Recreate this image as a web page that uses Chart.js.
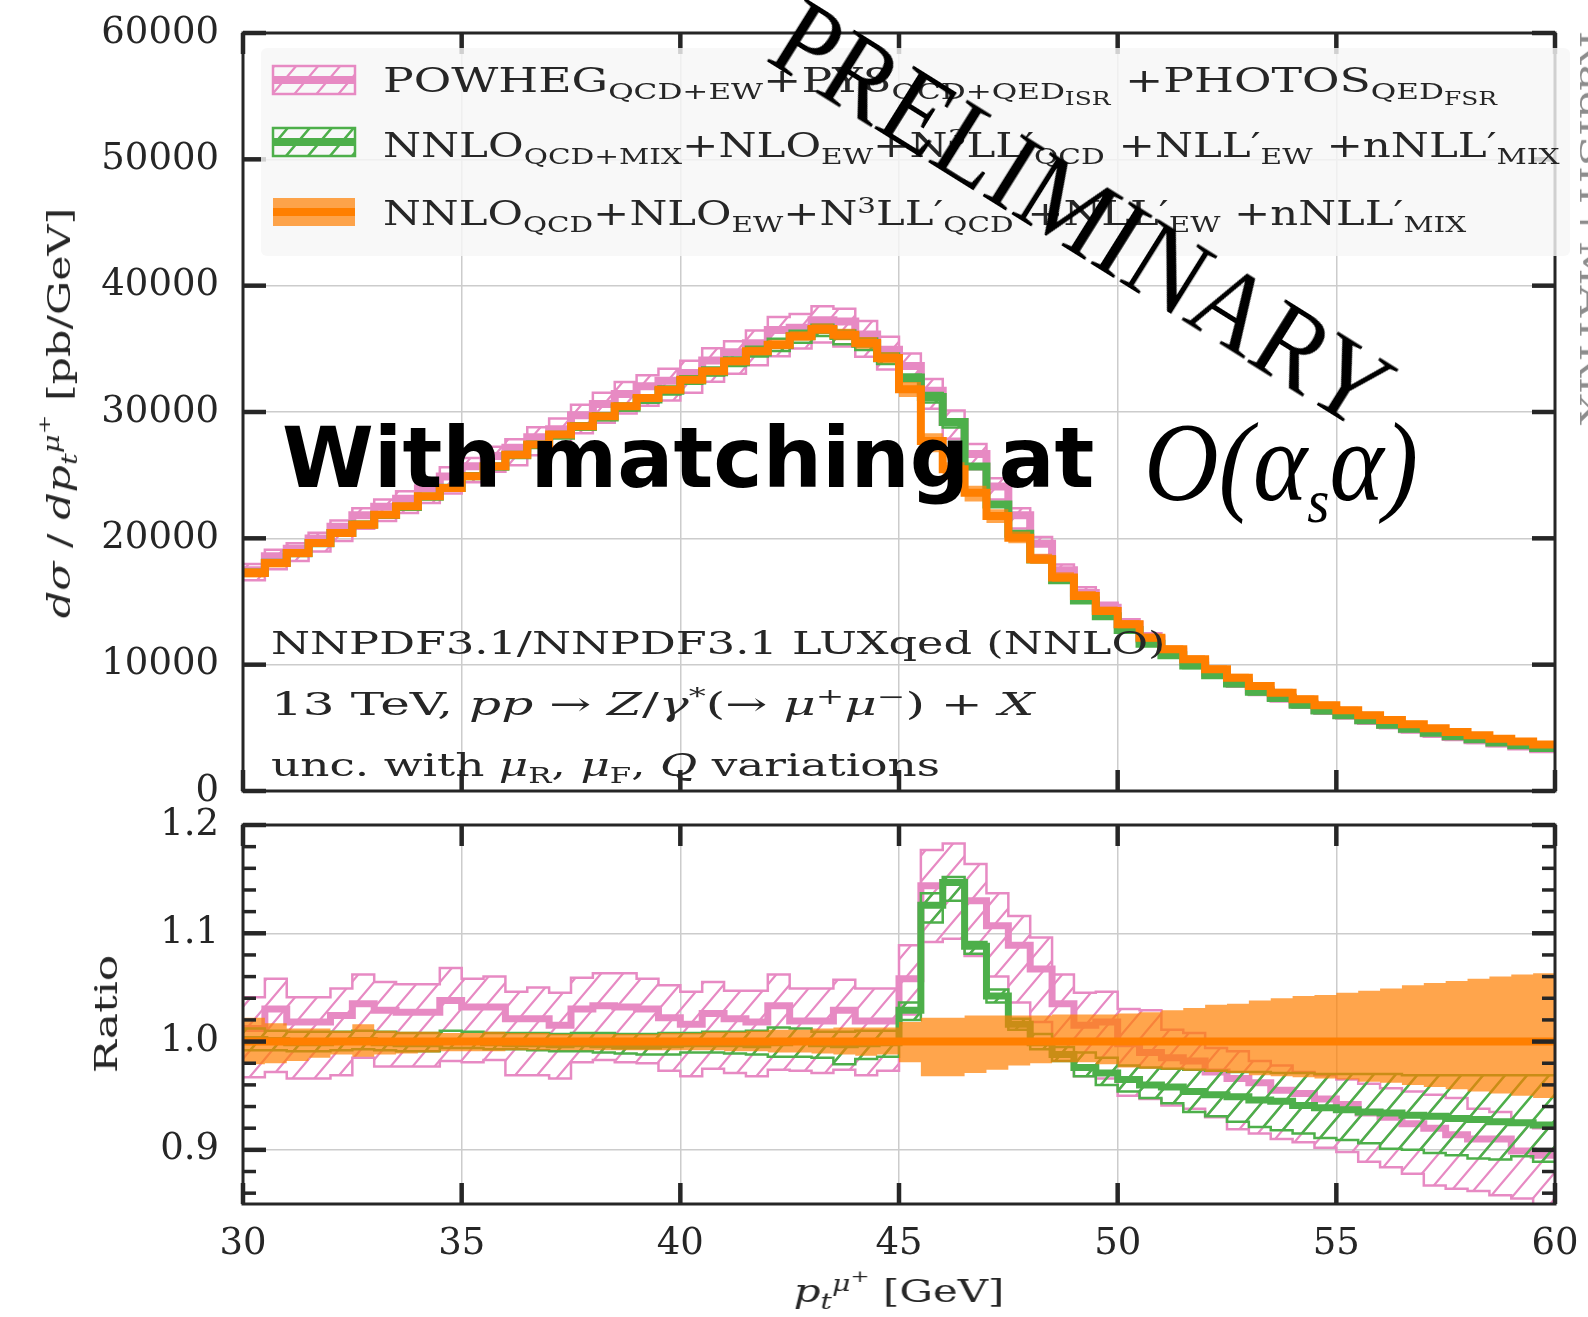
<!DOCTYPE html>
<html>
<head>
<meta charset="utf-8">
<title>pT(mu+) spectrum</title>
<script src="https://cdn.jsdelivr.net/npm/chart.js@4.4.1/dist/chart.umd.min.js"></script>
<style>
  body { margin: 0; background: #fff; }
  #page { position: relative; width: 1588px; height: 1317px; overflow: hidden; font-family: 'DejaVu Serif', serif; color: #262626; }
  canvas { position: absolute; left: 0; }
  .txt { position: absolute; white-space: nowrap; line-height: 1; transform-origin: 0 0; }
  sub, sup { font-size: 0.68em; line-height: 0; }
  sub { vertical-align: -0.32em; }
  sup { vertical-align: 0.5em; }
  sub sub, sup sup { font-size: 0.8em; }
  .leg { font-size: 34px; }
  .note { font-size: 32px; }
  .axt { font-size: 32px; }
</style>
</head>
<body>
<div id="page">
  <canvas id="mainChart" width="1588" height="830" style="top:0"></canvas>
  <canvas id="ratioChart" width="1588" height="517" style="top:800px"></canvas>

  <!-- legend -->
  <div class="txt leg" data-x="383" data-y="81" data-w="1114">POWHEG<sub>QCD+EW</sub>+PY8<sub>QCD+QED<sub>ISR</sub></sub> +PHOTOS<sub>QED<sub>FSR</sub></sub></div>
  <div class="txt leg" data-x="383" data-y="145" data-w="1177">NNLO<sub>QCD+MIX</sub>+NLO<sub>EW</sub>+N<sup>3</sup>LL′<sub>QCD</sub> +NLL′<sub>EW</sub> +nNLL′<sub>MIX</sub></div>
  <div class="txt leg" data-x="383" data-y="213" data-w="1083">NNLO<sub>QCD</sub>+NLO<sub>EW</sub>+N<sup>3</sup>LL′<sub>QCD</sub> +NLL′<sub>EW</sub> +nNLL′<sub>MIX</sub></div>

  <!-- setup notes -->
  <div class="txt note" data-x="271" data-y="643" data-w="894">NNPDF3.1/NNPDF3.1 LUXqed (NNLO)</div>
  <div class="txt note" data-x="271" data-y="704" data-w="764">13 TeV, <i>pp</i> → <i>Z</i>/<i>γ</i><sup>*</sup>(→ <i>μ</i><sup>+</sup><i>μ</i><sup>−</sup>) + <i>X</i></div>
  <div class="txt note" data-x="271" data-y="765" data-w="669">unc. with <i>μ</i><sub>R</sub>, <i>μ</i><sub>F</sub>, <i>Q</i> variations</div>

  <!-- axis titles -->
  <div class="txt axt" data-x="59" data-y="413" data-w="410" data-rot="-90"><i>dσ</i> / <i>dp</i><sub><i>t</i></sub><sup><i>μ</i><sup>+</sup></sup> [pb/GeV]</div>
  <div class="txt axt" data-x="106" data-y="1014" data-w="118" data-rot="-90">Ratio</div>
  <div class="txt axt" data-x="899" data-y="1291" data-w="211" data-rot="0.0001"><i>p</i><sub><i>t</i></sub><sup><i>μ</i><sup>+</sup></sup> [GeV]</div>

  <!-- overlays -->
  <div class="txt" style="font-family:'DejaVu Sans',sans-serif;font-weight:bold;font-size:84px;color:#000" data-x="282" data-y="458" data-w="812">With matching at</div>
  <div class="txt" style="font-family:'Liberation Serif',serif;font-style:italic;font-size:112px;color:#000" data-x="1144" data-y="462" data-w="274">O(α<sub style="font-size:0.55em;vertical-align:-0.35em">s</sub>α)</div>
  <div class="txt" style="font-family:'Liberation Serif',serif;font-size:112px;color:#000" data-x="1083" data-y="214" data-w="705" data-rot="32">PRELIMINARY</div>
  <div class="txt" style="font-size:30px;color:#8c8c8c" data-x="1590" data-y="228" data-w="395" data-rot="90">RadISH+MATRIX</div>
</div>

<script>
// bin edges of the pT histogram [GeV]
const binEdges = [30, 30.5, 31, 31.5, 32, 32.5, 33, 33.5, 34, 34.5, 35, 35.5, 36, 36.5, 37, 37.5, 38, 38.5, 39, 39.5,
  40, 40.5, 41, 41.5, 42, 42.5, 43, 43.5, 44, 44.5, 45, 45.5, 46, 46.5, 47, 47.5, 48, 48.5, 49, 49.5,
  50, 50.5, 51, 51.5, 52, 52.5, 53, 53.5, 54, 54.5, 55, 55.5, 56, 56.5, 57, 57.5, 58, 58.5, 59, 59.5, 60];

// NNLO_QCD+NLO_EW+N3LL' central prediction [pb/GeV] (reference of the ratio)
const nnloXsec = [17260, 18050, 18840, 19630, 20420, 21080, 21870, 22530, 23330, 23990,
  24910, 25700, 26620, 27420, 28210, 28870, 29660, 30450, 31110, 31770,
  32560, 33220, 34010, 34810, 35330, 35990, 36570, 36120, 35470, 34280,
  31800, 27700, 25460, 23600, 21770, 20050, 18340, 16890, 15440, 14250,
  13200, 12140, 11220, 10420, 9630, 8970, 8310, 7780, 7260, 6780,
  6390, 5990, 5620, 5280, 4960, 4670, 4410, 4140, 3910, 3690];
const nnloRatioHi = [1.022, 1.017, 1.012, 1.012, 1.010, 1.016, 1.010, 1.009, 1.009, 1.008,
  1.008, 1.009, 1.008, 1.008, 1.007, 1.007, 1.007, 1.007, 1.007, 1.008,
  1.008, 1.009, 1.009, 1.010, 1.011, 1.011, 1.012, 1.013, 1.013, 1.013,
  1.018, 1.022, 1.022, 1.024, 1.024, 1.024, 1.024, 1.025, 1.025, 1.025,
  1.026, 1.027, 1.029, 1.031, 1.034, 1.035, 1.038, 1.040, 1.042, 1.043,
  1.045, 1.047, 1.049, 1.052, 1.054, 1.056, 1.058, 1.060, 1.062, 1.063];
const nnloRatioLo = [0.979, 0.980, 0.982, 0.985, 0.988, 0.986, 0.988, 0.989, 0.990, 0.991,
  0.991, 0.991, 0.992, 0.992, 0.992, 0.992, 0.992, 0.992, 0.992, 0.992,
  0.992, 0.992, 0.991, 0.991, 0.990, 0.990, 0.989, 0.988, 0.987, 0.988,
  0.981, 0.968, 0.968, 0.971, 0.974, 0.978, 0.980, 0.981, 0.981, 0.979,
  0.976, 0.975, 0.974, 0.973, 0.972, 0.971, 0.969, 0.968, 0.967, 0.966,
  0.965, 0.963, 0.962, 0.960, 0.958, 0.956, 0.954, 0.952, 0.950, 0.948];

// POWHEG+PY8+PHOTOS, ratio to the reference
const powhegRatio = [1.012, 1.030, 1.018, 1.018, 1.024, 1.035, 1.029, 1.027, 1.027, 1.038,
  1.032, 1.032, 1.021, 1.021, 1.015, 1.030, 1.033, 1.032, 1.030, 1.022,
  1.016, 1.026, 1.021, 1.018, 1.033, 1.019, 1.019, 1.029, 1.019, 1.019,
  1.058, 1.144, 1.147, 1.130, 1.107, 1.089, 1.067, 1.035, 1.015, 1.018,
  0.998, 0.990, 0.985, 0.982, 0.972, 0.966, 0.962, 0.955, 0.952, 0.947,
  0.942, 0.934, 0.930, 0.924, 0.920, 0.914, 0.910, 0.910, 0.899, 0.895];
const powhegRatioHi = [1.041, 1.058, 1.041, 1.041, 1.049, 1.062, 1.055, 1.053, 1.053, 1.068,
  1.058, 1.060, 1.046, 1.050, 1.045, 1.059, 1.063, 1.063, 1.058, 1.052,
  1.046, 1.055, 1.047, 1.047, 1.062, 1.049, 1.049, 1.057, 1.049, 1.049,
  1.089, 1.177, 1.183, 1.164, 1.137, 1.116, 1.096, 1.062, 1.045, 1.046,
  1.030, 1.029, 1.011, 1.008, 0.994, 0.991, 0.982, 0.978, 0.972, 0.969,
  0.965, 0.961, 0.957, 0.954, 0.951, 0.948, 0.938, 0.935, 0.925, 0.920];
const powhegRatioLo = [0.967, 0.972, 0.966, 0.966, 0.969, 0.985, 0.977, 0.977, 0.977, 0.982,
  0.981, 0.983, 0.969, 0.969, 0.966, 0.981, 0.983, 0.981, 0.980, 0.973,
  0.968, 0.975, 0.971, 0.968, 0.974, 0.973, 0.971, 0.974, 0.969, 0.973,
  1.025, 1.092, 1.095, 1.079, 1.060, 1.036, 1.018, 0.987, 0.968, 0.966,
  0.950, 0.947, 0.941, 0.938, 0.930, 0.919, 0.915, 0.910, 0.907, 0.902,
  0.898, 0.889, 0.884, 0.878, 0.867, 0.864, 0.862, 0.858, 0.855, 0.845];

// NNLO_QCD+MIX ... +nNLL'_MIX, ratio to the reference
const mixRatio = [1.002, 1.001, 0.999, 0.999, 1.000, 1.001, 0.999, 0.998, 0.998, 1.000,
  1.000, 0.999, 0.998, 0.998, 0.997, 0.998, 0.997, 0.996, 0.996, 0.997,
  0.998, 0.998, 0.998, 0.997, 0.999, 1.000, 0.998, 0.997, 0.998, 0.999,
  1.029, 1.126, 1.147, 1.088, 1.042, 1.016, 0.999, 0.988, 0.976, 0.971,
  0.965, 0.960, 0.958, 0.954, 0.951, 0.949, 0.946, 0.945, 0.941, 0.939,
  0.937, 0.935, 0.934, 0.932, 0.931, 0.929, 0.928, 0.926, 0.925, 0.923];
const mixRatioHi = [1.012, 1.010, 1.009, 1.009, 1.009, 1.010, 1.009, 1.008, 1.008, 1.010,
  1.009, 1.008, 1.008, 1.008, 1.007, 1.008, 1.008, 1.007, 1.007, 1.008,
  1.008, 1.009, 1.009, 1.010, 1.013, 1.012, 1.009, 1.009, 1.010, 1.010,
  1.036, 1.137, 1.152, 1.092, 1.048, 1.021, 1.007, 0.995, 0.990, 0.985,
  0.978, 0.976, 0.975, 0.974, 0.973, 0.972, 0.972, 0.971, 0.971, 0.970,
  0.970, 0.970, 0.970, 0.969, 0.969, 0.969, 0.969, 0.969, 0.969, 0.969];
const mixRatioLo = [0.992, 0.992, 0.991, 0.991, 0.992, 0.993, 0.992, 0.991, 0.991, 0.994,
  0.994, 0.993, 0.993, 0.992, 0.991, 0.991, 0.990, 0.989, 0.988, 0.988,
  0.990, 0.990, 0.989, 0.988, 0.986, 0.986, 0.985, 0.979, 0.984, 0.986,
  1.020, 1.110, 1.130, 1.081, 1.036, 1.011, 0.993, 0.982, 0.968, 0.960,
  0.954, 0.948, 0.943, 0.935, 0.931, 0.926, 0.921, 0.918, 0.915, 0.911,
  0.909, 0.906, 0.901, 0.900, 0.897, 0.895, 0.892, 0.891, 0.894, 0.889];

// ticks
const xTicks = [30, 35, 40, 45, 50, 55, 60];
const mainYTicks = [0, 10000, 20000, 30000, 40000, 50000, 60000];
const ratioYTicks = [0.9, 1.0, 1.1, 1.2];
const ratioYMinor = [0.86, 0.88, 0.92, 0.94, 0.96, 0.98, 1.02, 1.04, 1.06, 1.08, 1.12, 1.14, 1.16, 1.18];

const PINK = '#e78ac3', GREEN = '#4daf4a', ORANGE = '#ff7f00', ORANGE_FILL = 'rgba(255,127,0,0.7)';
const INK = '#262626', GRID = '#cccccc', NONE = 'rgba(0,0,0,0)';

Chart.defaults.font.family = "'DejaVu Serif', serif";
Chart.defaults.font.size = 37;
Chart.defaults.color = INK;

const times = (a, b) => a.map((v, i) => v * b[i]);
const toSteps = vals => binEdges.map((x, i) => ({ x, y: vals[Math.min(i, vals.length - 1)] }));

// diagonal hatching used for the POWHEG and MIX bands
function hatch(ctx, color, lw) {
  const w = 22, h = 26;
  const tile = document.createElement('canvas');
  tile.width = w; tile.height = h;
  const g = tile.getContext('2d');
  g.strokeStyle = color;
  g.lineWidth = lw;
  g.beginPath();
  for (let k = -1; k <= 1; k++) {
    g.moveTo(k * w - w, 2 * h);
    g.lineTo(k * w + 2 * w, -h);
  }
  g.stroke();
  return ctx.createPattern(tile, 'repeat');
}

const stepLine = (vals, extra) => Object.assign({
  data: toSteps(vals),
  stepped: 'before',
  pointRadius: 0,
  fill: false,
  borderJoinStyle: 'miter',
  borderCapStyle: 'butt'
}, extra);

// lower edge, upper edge (filled down to lower), central line
function band(lo, mid, hi, s) {
  return [
    stepLine(lo, { borderColor: s.edge, borderWidth: s.edgeW, order: s.order + 2 }),
    stepLine(hi, { borderColor: s.edge, borderWidth: s.edgeW, order: s.order + 1, fill: '-1', backgroundColor: s.fill }),
    stepLine(mid, { borderColor: s.line, borderWidth: s.lineW, order: s.order })
  ];
}

const framePlugin = {
  id: 'frame',
  afterDatasetsDraw(chart, args, opts) {
    const { ctx, chartArea: a } = chart;
    const x = chart.scales.x, y = chart.scales.y;
    const seg = (x0, y0, x1, y1) => { ctx.beginPath(); ctx.moveTo(x0, y0); ctx.lineTo(x1, y1); ctx.stroke(); };
    ctx.save();
    ctx.strokeStyle = INK;
    ctx.lineWidth = 4.5;
    xTicks.forEach(v => {
      const p = x.getPixelForValue(v);
      seg(p, a.top, p, a.top + 21);
      seg(p, a.bottom, p, a.bottom - 21);
    });
    opts.major.forEach(v => {
      const p = y.getPixelForValue(v);
      seg(a.left, p, a.left + 23, p);
      seg(a.right, p, a.right - 23, p);
    });
    ctx.lineWidth = 3.5;
    (opts.minor || []).forEach(v => {
      const p = y.getPixelForValue(v);
      seg(a.left, p, a.left + 13, p);
      seg(a.right, p, a.right - 13, p);
    });
    ctx.lineWidth = 3;
    ctx.strokeRect(a.left, a.top, a.width, a.height);
    ctx.restore();
  }
};

const legendPlugin = {
  id: 'legendBox',
  afterDraw(chart, args, opts) {
    const ctx = chart.ctx;
    ctx.save();
    ctx.fillStyle = 'rgba(247,247,247,0.82)';
    ctx.beginPath();
    ctx.roundRect(261, 48, 1309, 208, 6);
    ctx.fill();
    opts.items.forEach(it => {
      const x0 = 273, x1 = 355, top = it.y - 14, h = 28;
      ctx.fillStyle = it.fill;
      ctx.fillRect(x0, top, x1 - x0, h);
      if (it.edge) {
        ctx.strokeStyle = it.edge;
        ctx.lineWidth = 2.5;
        ctx.strokeRect(x0, top, x1 - x0, h);
      }
      ctx.strokeStyle = it.line;
      ctx.lineWidth = 8;
      ctx.beginPath();
      ctx.moveTo(x0, it.y);
      ctx.lineTo(x1, it.y);
      ctx.stroke();
    });
    ctx.restore();
  }
};

// invisible tick marks give the label gap without inflating the layout padding
const gridOpts = gap => ({ color: GRID, lineWidth: 1.5, drawTicks: gap > 0, tickLength: gap, tickColor: NONE });

/* main panel */
const mainCtx = document.getElementById('mainChart').getContext('2d');
const pinkHatchM = hatch(mainCtx, PINK, 2.2);
const greenHatchM = hatch(mainCtx, GREEN, 2.5);

new Chart(mainCtx, {
  type: 'line',
  data: {
    datasets: [
      ...band(times(nnloXsec, powhegRatioLo), times(nnloXsec, powhegRatio), times(nnloXsec, powhegRatioHi),
        { edge: PINK, edgeW: 2.5, fill: pinkHatchM, line: PINK, lineW: 8, order: 7 }),
      ...band(times(nnloXsec, mixRatioLo), times(nnloXsec, mixRatio), times(nnloXsec, mixRatioHi),
        { edge: GREEN, edgeW: 2.5, fill: greenHatchM, line: GREEN, lineW: 8, order: 4 }),
      ...band(times(nnloXsec, nnloRatioLo), nnloXsec, times(nnloXsec, nnloRatioHi),
        { edge: NONE, edgeW: 1, fill: ORANGE_FILL, line: ORANGE, lineW: 8, order: 1 })
    ]
  },
  options: {
    responsive: false,
    animation: false,
    events: [],
    layout: { padding: { top: 33, right: 33, bottom: 39, left: 0 } },
    plugins: {
      legend: { display: false },
      tooltip: { enabled: false },
      frame: { major: mainYTicks },
      legendBox: {
        items: [
          { y: 80, fill: pinkHatchM, edge: PINK, line: PINK },
          { y: 142, fill: greenHatchM, edge: GREEN, line: GREEN },
          { y: 212, fill: ORANGE_FILL, edge: null, line: ORANGE }
        ]
      }
    },
    scales: {
      x: {
        type: 'linear', min: 30, max: 60,
        afterBuildTicks: s => { s.ticks = xTicks.map(v => ({ value: v })); },
        ticks: { display: false, padding: 0 },
        grid: gridOpts(0),
        border: { display: false },
        afterFit: s => { s.height = 0; }
      },
      y: {
        min: 0, max: 60000,
        afterBuildTicks: s => { s.ticks = mainYTicks.map(v => ({ value: v })); },
        ticks: { padding: 0, callback: v => String(v) },
        grid: gridOpts(24),
        border: { display: false },
        afterFit: s => { s.width = 243; }
      }
    }
  },
  plugins: [framePlugin, legendPlugin]
});

/* ratio panel */
const ratioCtx = document.getElementById('ratioChart').getContext('2d');
const pinkHatchR = hatch(ratioCtx, PINK, 2.2);
const greenHatchR = hatch(ratioCtx, GREEN, 2.5);

new Chart(ratioCtx, {
  type: 'line',
  data: {
    datasets: [
      ...band(powhegRatioLo, powhegRatio, powhegRatioHi,
        { edge: PINK, edgeW: 2.5, fill: pinkHatchR, line: PINK, lineW: 7, order: 7 }),
      ...band(mixRatioLo, mixRatio, mixRatioHi,
        { edge: GREEN, edgeW: 2.5, fill: greenHatchR, line: GREEN, lineW: 7, order: 4 }),
      // reference divided by itself
      ...band(nnloRatioLo, nnloXsec.map(v => v / v), nnloRatioHi,
        { edge: NONE, edgeW: 1, fill: ORANGE_FILL, line: ORANGE, lineW: 8, order: 1 })
    ]
  },
  options: {
    responsive: false,
    animation: false,
    events: [],
    layout: { padding: { top: 25, right: 33, bottom: 0, left: 0 } },
    plugins: {
      legend: { display: false },
      tooltip: { enabled: false },
      frame: { major: ratioYTicks, minor: ratioYMinor }
    },
    scales: {
      x: {
        type: 'linear', min: 30, max: 60,
        afterBuildTicks: s => { s.ticks = xTicks.map(v => ({ value: v })); },
        ticks: { padding: 0, maxRotation: 0, callback: v => String(v) },
        grid: gridOpts(18),
        border: { display: false },
        afterFit: s => { s.height = 113; }
      },
      y: {
        min: 0.85, max: 1.2,
        afterBuildTicks: s => { s.ticks = ratioYTicks.map(v => ({ value: v })); },
        ticks: { padding: 0, callback: v => v.toFixed(1) },
        grid: gridOpts(24),
        border: { display: false },
        afterFit: s => { s.width = 243; }
      }
    }
  },
  plugins: [framePlugin]
});

/* place and stretch the text overlays */
function placeTexts() {
  document.querySelectorAll('.txt').forEach(el => {
    const x = +el.dataset.x, y = +el.dataset.y, w = +el.dataset.w;
    const rot = el.dataset.rot ? +el.dataset.rot : null;
    const k = w / el.offsetWidth;
    el.style.left = x + 'px';
    el.style.top = y + 'px';
    if (rot !== null) {
      el.style.transform = `rotate(${rot}deg) scaleX(${k}) translate(-50%, -50%)`;
    } else {
      el.style.transform = `scaleX(${k}) translate(0, -50%)`;
    }
  });
}
placeTexts();
if (document.fonts) document.fonts.ready.then(placeTexts);
</script>
</body>
</html>
